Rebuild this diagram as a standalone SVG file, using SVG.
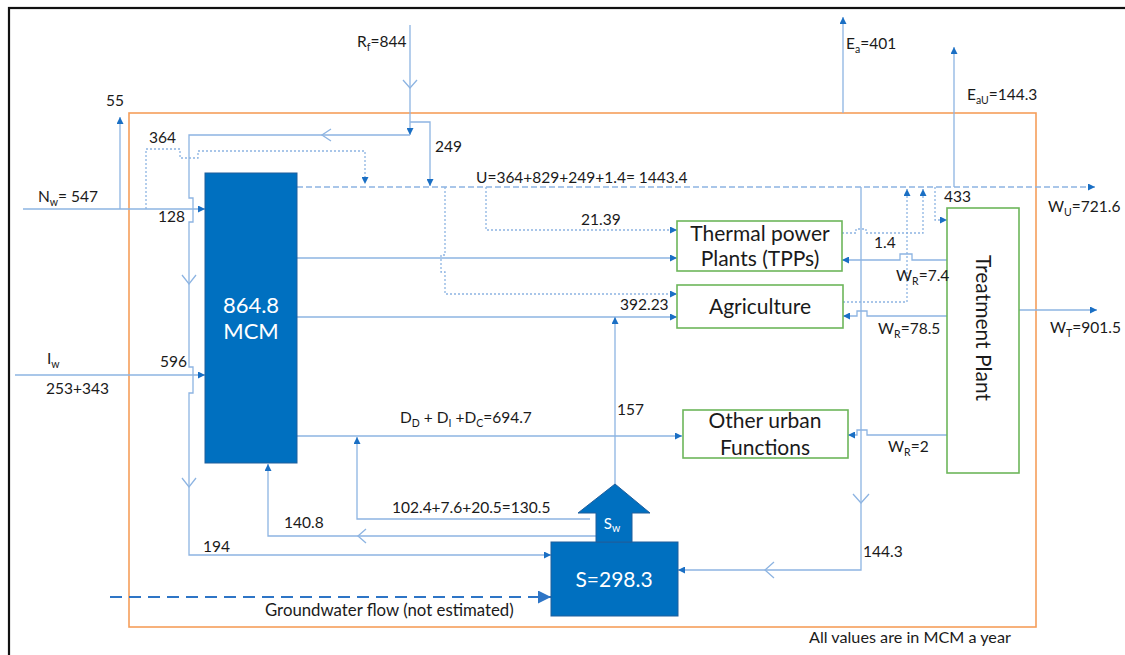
<svg xmlns="http://www.w3.org/2000/svg" width="1125" height="655" viewBox="0 0 1125 655">
<style>
text{font-family:Lato,"Liberation Sans",sans-serif;fill:#1a1a1a}
.lb{font-size:15.5px}
.bx{font-size:21px;text-anchor:middle}
.wt{fill:#fff;text-anchor:middle}
.sub{font-size:10.5px}
.ln{fill:none;stroke:#8DB4E2;stroke-width:1.3}
.dot{fill:none;stroke:#8DB4E2;stroke-width:1.3;stroke-dasharray:2 2}
.dsh{fill:none;stroke:#8DB4E2;stroke-width:1.3;stroke-dasharray:6 3}
.chev{fill:none;stroke:#8DB4E2;stroke-width:1.3}
.blue{fill:#0070C0;stroke:#1F5E9C;stroke-width:1}
.green{fill:#fff;stroke:#6DB65B;stroke-width:1.6}
</style>
<defs>
<marker id="ah" viewBox="0 0 10 10" refX="10" refY="5" markerWidth="8" markerHeight="7" markerUnits="userSpaceOnUse" orient="auto">
<path d="M0,0 L10,5 L0,10 z" fill="#1A6FC4"/>
</marker>
<marker id="big" viewBox="0 0 10 10" refX="10" refY="5" markerWidth="13" markerHeight="13" markerUnits="userSpaceOnUse" orient="auto">
<path d="M0,0 L10,5 L0,10 z" fill="#2E75C6"/>
</marker>
</defs>
<rect x="9" y="8" width="1135" height="670" fill="#fff" stroke="#111" stroke-width="2.2"/>
<rect id="boundary" x="129" y="113" width="907" height="514" fill="none" stroke="#F59E5B" stroke-width="1.6"/>

<g id="connectors">
<path class="ln" d="M23,209 H205" marker-end="url(#ah)"/>
<path class="ln" d="M15,375 H205" marker-end="url(#ah)"/>
<path class="ln" d="M120,209 V117" marker-end="url(#ah)"/>
<path class="dot" d="M146,209 V149 H180 V158 H198 V151 H365 V184" marker-end="url(#ah)"/>
<path class="ln" d="M410,25 V135" marker-end="url(#ah)"/>
<polyline class="chev" points="403,80 410,88 417,80"/>
<path class="ln" d="M410,135 H189 V198 H193 V222 H189 V367 H193 V393 H189 V555 H551" marker-end="url(#ah)"/>
<polyline class="chev" points="331,129 322,135 331,141"/>
<polyline class="chev" points="182,275 189,284 196,275"/>
<polyline class="chev" points="182,478 189,487 196,478"/>
<path class="ln" d="M410,122 H430 V186" marker-end="url(#ah)"/>
<path class="dsh" d="M297,187 H1095" marker-end="url(#ah)"/>
<path class="dot" d="M486,187 V230 H677" marker-end="url(#ah)"/>
<path class="dot" d="M445,187 V255 H441 V272 H445 V294 H677" marker-end="url(#ah)"/>
<path class="ln" d="M297,258 H677" marker-end="url(#ah)"/>
<path class="ln" d="M297,317 H677" marker-end="url(#ah)"/>
<path class="ln" d="M615,484 V317" marker-end="url(#ah)"/>
<path class="ln" d="M297,436 H682" marker-end="url(#ah)"/>
<path class="ln" d="M590,519 H357 V437" marker-end="url(#ah)"/>
<path class="ln" d="M596,536 H268 V464" marker-end="url(#ah)"/>
<polyline class="chev" points="366,529 358,536 366,543"/>
<path d="M110,597 H551" fill="none" stroke="#2E75C6" stroke-width="2.2" stroke-dasharray="12 7" marker-end="url(#big)"/>
<path class="ln" d="M861,187 V570 H678" marker-end="url(#ah)"/>
<polyline class="chev" points="853,494 861,503 869,494"/>
<polyline class="chev" points="774,562 765,570 774,578"/>
<path class="ln" d="M948,260 H912 V254 H900 V260 H842" marker-end="url(#ah)"/>
<path class="ln" d="M948,316 H867 V311 H857 V316 H843" marker-end="url(#ah)"/>
<path class="ln" d="M948,435 H867 V430 H857 V435 H848" marker-end="url(#ah)"/>
<path class="dot" d="M842,233 H856 V229 H866 V233 H923 V189" marker-end="url(#ah)"/>
<path class="dot" d="M843,302 H907 V189" marker-end="url(#ah)"/>
<path class="dot" d="M935,187 V220 H947" marker-end="url(#ah)"/>
<path class="ln" d="M1019,310 H1097" marker-end="url(#ah)"/>
<path class="ln" d="M843,113 V17" marker-end="url(#ah)"/>
<path class="ln" d="M954,187 V47" marker-end="url(#ah)"/>
</g>

<g id="reservoir">
<rect class="blue" x="205" y="173" width="92" height="290"/>
<text class="wt" x="251" y="313" font-size="22">864.8</text>
<text class="wt" x="251" y="339" font-size="22">MCM</text>
</g>
<g id="storage">
<rect class="blue" x="551" y="542" width="127" height="74"/>
<text class="wt" x="614" y="587" font-size="21">S=298.3</text>
</g>
<g id="sw">
<polygon class="blue" points="596,542 596,513 578,513 615,484 650,513 632,513 632,542"/>
<text class="wt" x="612" y="529" font-size="15">S<tspan class="sub" dy="3">w</tspan></text>
</g>
<g id="tpp">
<rect class="green" x="677" y="221" width="165" height="50"/>
<text class="bx" x="760" y="241">Thermal power</text>
<text class="bx" x="760" y="266">Plants (TPPs)</text>
</g>
<g id="agriculture">
<rect class="green" x="677" y="285" width="166" height="43"/>
<text class="bx" x="760" y="314">Agriculture</text>
</g>
<g id="urban">
<rect class="green" x="683" y="410" width="165" height="48"/>
<text class="bx" x="765" y="428">Other urban</text>
<text class="bx" x="765" y="455">Functions</text>
</g>
<g id="treatment">
<rect class="green" x="947" y="208" width="72" height="265"/>
<text class="bx" font-size="22" transform="translate(976,328) rotate(90)">Treatment Plant</text>
</g>

<g id="labels" class="lb">
<text x="106" y="106">55</text>
<text x="149" y="143">364</text>
<text x="38" y="202">N<tspan class="sub" dy="4">w</tspan><tspan dy="-4">= 547</tspan></text>
<text x="158" y="222">128</text>
<text x="357" y="47">R<tspan class="sub" dy="4">f</tspan><tspan dy="-4">=844</tspan></text>
<text x="435" y="152">249</text>
<text x="476" y="183">U=364+829+249+1.4= 1443.4</text>
<text x="581" y="225">21.39</text>
<text x="846" y="49">E<tspan class="sub" dy="4">a</tspan><tspan dy="-4">=401</tspan></text>
<text x="967" y="100">E<tspan class="sub" dy="4">aU</tspan><tspan dy="-4">=144.3</tspan></text>
<text x="944" y="202">433</text>
<text x="1048" y="212">W<tspan class="sub" dy="4">U</tspan><tspan dy="-4">=721.6</tspan></text>
<text x="874" y="248">1.4</text>
<text x="896" y="281">W<tspan class="sub" dy="4">R</tspan><tspan dy="-4">=7.4</tspan></text>
<text x="878" y="334">W<tspan class="sub" dy="4">R</tspan><tspan dy="-4">=78.5</tspan></text>
<text x="1050" y="333">W<tspan class="sub" dy="4">T</tspan><tspan dy="-4">=901.5</tspan></text>
<text x="620" y="310">392.23</text>
<text x="617" y="415">157</text>
<text x="47" y="364">I<tspan class="sub" dy="4">w</tspan></text>
<text x="160" y="367">596</text>
<text x="46" y="394">253+343</text>
<text x="400" y="423">D<tspan class="sub" dy="4">D</tspan><tspan dy="-4"> + D</tspan><tspan class="sub" dy="4">I</tspan><tspan dy="-4"> +D</tspan><tspan class="sub" dy="4">C</tspan><tspan dy="-4">=694.7</tspan></text>
<text x="888" y="452">W<tspan class="sub" dy="4">R</tspan><tspan dy="-4">=2</tspan></text>
<text x="392" y="513">102.4+7.6+20.5=130.5</text>
<text x="284" y="528">140.8</text>
<text x="203" y="552">194</text>
<text x="863" y="557">144.3</text>
<text x="265" y="616" font-size="16.8">Groundwater flow (not estimated)</text>
<text x="809" y="643" font-size="16.2">All values are in MCM a year</text>
</g>
</svg>
